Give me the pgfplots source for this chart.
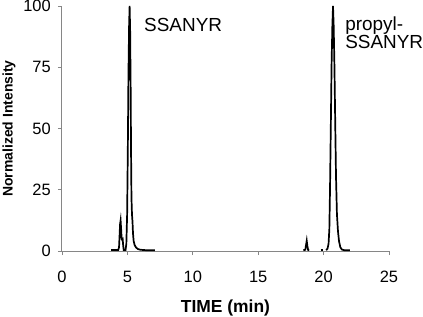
\documentclass[border=0pt]{standalone}
\usepackage{fontspec}
\setmainfont{Liberation Sans}
\usepackage{pgfplots}
\pgfplotsset{compat=1.18}
\definecolor{axgray}{RGB}{134,134,134}

\begin{document}
\begin{tikzpicture}
\begin{axis}[
 name=ax,
 scale only axis,
 width=327bp, height=245bp,
 xmin=0, xmax=25, ymin=0, ymax=100,
 axis lines=left,
 axis line style={-, draw=axgray, line width=1bp},
 xtick={0,5,10,15,20,25},
 ytick={0,25,50,75,100},
 tick style={draw=axgray, line width=0.8bp},
 tick align=outside,
 major tick length=4bp,
 /pgf/number format/assume math mode=true,
 tick label style={font=\fontsize{16.5}{19}\selectfont},
 xticklabel style={yshift=-13bp},
 yticklabel style={xshift=-3.7bp},
 xlabel={TIME (min)},
 ylabel={Normalized Intensity},
 xlabel style={font=\fontsize{17.5}{20}\bfseries\selectfont, at={(axis description cs:0.5,0)}, anchor=base, yshift=-61bp},
 ylabel style={font=\fontsize{14}{17}\bfseries\selectfont, at={(axis description cs:-0.151,0.5)}, anchor=base},
 clip=false,
]
% SSANYR trace
\addplot[black, line width=1.7bp, mark=none] coordinates {
(3.75,0.4) (4.30,0.4) (4.36,1.5) (4.40,6) (4.44,11) (4.48,12.5) (4.52,9)
(4.56,5) (4.60,4.5) (4.64,4.8) (4.68,2) (4.72,0.4) (4.86,0.4) (4.92,3)
(4.98,15) (5.03,40) (5.08,72) (5.13,92) (5.17,100) (5.21,90)
(5.25,66) (5.28,40) (5.31,22) (5.35,15) (5.39,12) (5.43,7) (5.48,4)
(5.55,2.5) (5.65,1.5) (5.80,0.8) (6.00,0.5) (6.50,0.3) (7.10,0.3)
};
% small peak near 18.7
\addplot[black, line width=1.7bp, mark=none] coordinates {
(18.45,0.3) (18.60,0.5) (18.66,2.5) (18.71,4.2) (18.76,2) (18.82,0.4) (18.90,0.3)
};
\addplot[black, line width=1.7bp, mark=none] coordinates {
(19.78,0.3) (19.98,0.3)
};
% propyl-SSANYR trace
\addplot[black, line width=1.7bp, mark=none] coordinates {
(20.20,0.3) (20.30,1) (20.38,3) (20.44,9) (20.49,25) (20.55,50) (20.61,76)
(20.67,92) (20.72,100) (20.77,92) (20.83,75) (20.89,52) (20.95,30)
(21.02,15) (21.10,8) (21.18,4) (21.28,1.5) (21.40,0.6) (21.60,0.3) (22.00,0.3)
};
\node[anchor=base west, inner sep=0, font=\fontsize{19}{19}\selectfont] at (axis cs:6.27,89.4) {SSANYR};
\node[anchor=base west, inner sep=0, font=\fontsize{19}{19}\selectfont] at (axis cs:21.64,90.2) {propyl-};
\node[anchor=base west, inner sep=0, font=\fontsize{19}{19}\selectfont] at (axis cs:21.64,82.6) {SSANYR};
\end{axis}
\pgfresetboundingbox
\path[use as bounding box] ([xshift=-62bp,yshift=-66bp]ax.south west) rectangle ([xshift=34bp,yshift=6bp]ax.north east);
\end{tikzpicture}
\end{document}
